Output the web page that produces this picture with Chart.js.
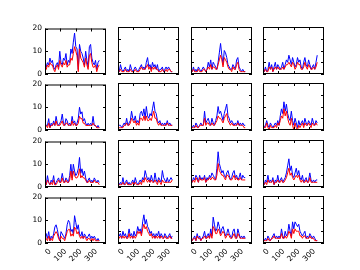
<!DOCTYPE html>
<html>
<head>
<meta charset="utf-8">
<script src="https://cdn.jsdelivr.net/npm/chart.js@4/dist/chart.umd.min.js"></script>
<style>
  html, body { margin: 0; padding: 0; background: #fff; }
  #fig { position: relative; width: 360px; height: 270px; background: #fff; overflow: hidden; }
  #fig canvas { position: absolute; }
</style>
</head>
<body>
<div id="fig"></div>
<script>
// ---- data ----
const days = [0,8,16,24,32,40,48,56,64,72,80,88,96,104,112,120,128,136,144,152,160,168,176,184,192,200,208,216,224,232,240,248,256,264,272,280,288,296,304,312,320,328,336,344,352];
const xTickValues = [0, 100, 200, 300];
const yTickValues = [0, 5, 10, 15, 20];
const xMax = 396;
const yMax = 20;

const p1Blue = [6,3,5,4,7,5,6,3,2,4,5,3,10,5,4,7,6,9,4,6,5,11,9,14,18,12,11,2,13,10,9,7,4,10,6,3,12,13,7,5,4,6,2,5,6];
const p1Red  = [4,2,4,3,5,4,4,2,1,3,4,2,6,4,3,5,4,6,3,4,4,7,6,9,12,10,8,1,11,7,6,5,3,7,4,2,8,9,5,3,3,4,1,3,4];
const p2Blue = [2,1,4,2,1,2,3,1,2,1,4,2,1,2,3,2,1,2,3,4,2,3,2,5,7,3,4,2,5,3,4,2,4,1,2,2,3,1,2,3,2,3,2,1,1];
const p2Red  = [1,1,2,1,1,1,2,1,1,1,2,1,1,1,2,1,1,1,2,3,2,2,2,3,4,2,3,1,3,2,3,2,2,1,1,1,2,1,1,2,1,2,2,1,1];
const p3Blue = [2,1,3,1,2,1,3,2,1,2,3,2,1,2,5,3,6,2,5,4,3,2,5,9,13,8,4,10,9,7,4,3,2,2,4,3,2,6,7,3,2,1,2,1,1];
const p3Red  = [2,1,2,1,1,1,2,1,1,1,2,2,1,2,3,2,4,2,3,3,2,2,4,6,8,6,3,7,6,5,3,2,2,1,3,2,2,4,5,2,1,1,1,1,1];
const p4Blue = [2,1,3,1,2,5,2,4,1,3,5,2,4,3,2,3,5,2,4,6,5,8,6,4,7,5,3,4,7,5,6,3,2,5,7,4,3,6,4,2,3,4,2,5,8];
const p4Red  = [1,1,2,1,1,3,2,3,1,2,3,2,3,2,2,2,3,2,3,4,4,5,4,3,5,4,2,3,5,4,4,2,2,3,5,3,2,4,3,2,2,3,2,3,5];
const p5Blue = [3,2,2,5,1,3,2,4,2,6,3,2,3,4,7,3,2,5,4,2,3,2,6,3,4,2,3,5,10,7,8,4,5,3,2,3,2,3,2,6,2,2,1,2,1];
const p5Red  = [2,2,1,3,1,2,2,3,2,4,2,2,2,3,4,2,2,3,3,2,2,2,4,2,3,2,2,3,6,5,5,3,3,2,2,2,2,2,2,3,2,2,1,1,1];
const p6Blue = [2,2,2,1,2,3,2,5,2,3,4,8,5,4,6,3,4,3,7,8,6,9,5,10,6,5,7,6,9,12,8,7,4,3,4,2,3,2,3,2,4,2,3,2,2];
const p6Red  = [1,1,1,1,1,2,2,3,2,2,3,5,4,3,4,2,3,2,5,5,4,6,4,6,4,4,5,4,6,8,5,5,3,2,3,2,2,2,2,2,3,2,2,2,2];
const p7Blue = [2,1,2,1,3,2,1,2,3,2,2,8,3,4,5,3,2,5,3,2,4,6,10,7,8,6,4,7,9,11,6,5,3,4,3,2,3,2,4,2,3,2,3,2,2];
const p7Red  = [1,1,1,1,2,1,1,2,2,2,2,5,2,3,3,2,2,3,2,2,3,4,6,5,5,4,3,5,6,7,4,3,2,3,2,2,2,2,3,2,2,2,2,1,1];
const p8Blue = [3,1,2,4,2,1,3,2,1,2,3,2,4,2,6,9,7,12,8,11,7,5,4,8,4,2,5,3,1,4,2,3,4,2,5,3,2,4,3,2,5,3,2,4,3];
const p8Red  = [2,1,1,3,1,0,2,1,1,1,2,1,3,2,4,6,5,9,6,8,5,3,2,5,2,0,3,1,0,2,1,2,3,1,3,2,2,3,2,1,3,2,2,3,2];
const p9Blue = [2,1,5,2,1,3,2,5,1,2,3,4,2,3,6,3,2,4,3,2,5,10,4,10,7,5,6,8,13,6,8,5,7,4,2,3,4,2,3,2,4,3,2,3,2];
const p9Red  = [1,1,3,2,1,2,1,3,1,1,2,3,2,2,4,2,2,3,2,2,3,7,3,7,5,4,4,5,8,4,5,4,4,3,2,2,3,2,2,2,3,2,2,2,1];
const p10Blue = [2,1,2,1,4,1,2,3,1,2,1,2,3,1,4,2,1,2,3,2,4,3,7,5,3,4,2,5,3,2,6,3,2,4,3,2,7,4,3,2,4,2,3,4,3];
const p10Red  = [1,1,1,1,2,1,1,2,1,1,1,1,2,1,2,1,1,1,2,1,3,2,4,3,2,3,2,3,2,2,3,2,1,3,2,1,3,2,2,2,2,2,2,2,3];
const p11Blue = [3,2,4,3,5,4,2,5,3,4,3,5,2,4,3,5,4,6,5,4,3,8,15,10,8,6,7,5,4,6,7,5,3,4,6,7,4,5,3,4,6,3,5,4,4];
const p11Red  = [2,2,3,2,4,3,2,4,3,3,3,4,2,3,3,4,3,4,4,3,3,5,10,7,6,5,5,4,3,5,5,4,3,3,4,5,3,4,3,3,4,3,3,3,3];
const p12Blue = [2,1,3,2,5,2,3,2,4,1,3,2,5,2,3,4,2,3,4,6,9,12,7,9,5,4,6,8,5,7,4,3,5,2,3,4,2,3,6,3,2,3,2,3,3];
const p12Red  = [1,1,2,1,3,2,2,2,3,1,2,2,3,2,2,3,2,2,3,4,6,8,5,6,4,3,4,5,4,5,3,2,3,2,2,3,2,2,4,2,2,2,2,2,2];
const p13Blue = [5,4,2,5,1,3,2,4,7,8,6,3,1,5,4,3,2,4,8,10,9,5,6,4,12,9,6,8,4,3,5,2,4,3,2,3,4,2,3,2,3,2,1,2,1];
const p13Red  = [3,2,1,3,1,2,1,3,4,5,4,2,1,3,2,2,1,3,5,6,6,3,4,3,7,6,4,5,3,2,3,2,3,2,1,2,2,1,2,1,2,1,1,1,1];
const p14Blue = [5,3,4,2,5,3,4,2,3,6,3,4,2,5,3,4,7,5,6,4,9,12,8,10,7,6,4,5,3,4,2,4,3,5,2,4,3,2,4,3,2,3,4,2,3];
const p14Red  = [3,2,3,2,3,2,3,2,2,4,2,3,2,3,2,3,5,4,5,3,6,8,6,7,5,4,3,4,2,3,2,3,2,3,2,3,2,2,3,2,2,2,3,2,2];
const p15Blue = [3,1,2,3,1,4,2,3,1,2,3,5,2,3,4,2,6,3,11,8,5,6,9,7,4,6,7,5,3,4,6,4,3,2,5,6,3,2,6,4,2,3,2,3,2];
const p15Red  = [2,1,2,2,1,3,2,2,1,2,2,3,2,2,3,2,4,2,7,6,4,4,6,5,3,4,5,4,2,3,4,3,2,2,3,4,2,2,4,3,2,2,2,2,2];
const p16Blue = [2,1,2,1,3,2,1,2,3,4,2,3,2,3,2,6,3,2,5,3,4,8,5,3,9,6,9,8,7,8,5,4,3,4,5,2,3,2,4,3,2,3,2,1,1];
const p16Red  = [1,1,1,1,2,1,1,2,2,3,2,2,2,2,2,4,2,2,3,2,3,5,4,2,6,4,6,5,5,5,3,3,2,3,3,2,2,2,3,2,2,2,1,1,1];

const panels = [
  [p1Blue, p1Red], [p2Blue, p2Red], [p3Blue, p3Red], [p4Blue, p4Red],
  [p5Blue, p5Red], [p6Blue, p6Red], [p7Blue, p7Red], [p8Blue, p8Red],
  [p9Blue, p9Red], [p10Blue, p10Red], [p11Blue, p11Red], [p12Blue, p12Red],
  [p13Blue, p13Red], [p14Blue, p14Red], [p15Blue, p15Red], [p16Blue, p16Red]
];

// ---- layout ----
const FIG_W = 360, FIG_H = 270;
const gridLeft = 0.125 * FIG_W, gridRight = 0.9 * FIG_W;
const gridTop = 0.1 * FIG_H, gridBottom = 0.9 * FIG_H;
const pw = (gridRight - gridLeft) / 4.6, ph = (gridBottom - gridTop) / 4.6;
const PAD_L = 30, PAD_T = 6, PAD_R = 4, PAD_B = 30;
const FONT = { family: "'DejaVu Sans', sans-serif", size: 7.5 };

const framePlugin = {
  id: 'frame',
  afterDatasetsDraw(chart) {
    const { ctx, chartArea: a, scales } = chart;
    ctx.save();
    ctx.strokeStyle = '#000';
    ctx.lineWidth = 1;
    ctx.strokeRect(a.left + 0.5, a.top + 0.5, a.right - a.left - 1, a.bottom - a.top - 1);
    ctx.beginPath();
    const tl = 3;
    scales.x.ticks.forEach(t => {
      const px = Math.round(scales.x.getPixelForValue(t.value)) + 0.5;
      ctx.moveTo(px, a.bottom); ctx.lineTo(px, a.bottom - tl);
      ctx.moveTo(px, a.top); ctx.lineTo(px, a.top + tl);
    });
    scales.y.ticks.forEach(t => {
      const py = Math.round(scales.y.getPixelForValue(t.value)) + 0.5;
      ctx.moveTo(a.left, py); ctx.lineTo(a.left + tl, py);
      ctx.moveTo(a.right, py); ctx.lineTo(a.right - tl, py);
    });
    ctx.stroke();
    ctx.restore();
  }
};

const fig = document.getElementById('fig');
panels.forEach(([blue, red], k) => {
  const col = k % 4, row = Math.floor(k / 4);
  const left = Math.round(gridLeft + col * pw * 1.2);
  const top = Math.round(gridTop + row * ph * 1.2);
  const cw = Math.round(pw) + PAD_L + PAD_R;
  const chh = Math.round(ph) + PAD_T + PAD_B;
  const cv = document.createElement('canvas');
  cv.width = cw; cv.height = chh;
  cv.style.left = (left - PAD_L) + 'px';
  cv.style.top = (top - PAD_T) + 'px';
  cv.style.width = cw + 'px'; cv.style.height = chh + 'px';
  fig.appendChild(cv);
  new Chart(cv, {
    type: 'line',
    data: {
      datasets: [
        { data: days.map((d, i) => ({ x: d, y: red[i] })), borderColor: '#ff0000', borderWidth: 1, pointRadius: 0, tension: 0, order: 0 },
        { data: days.map((d, i) => ({ x: d, y: blue[i] })), borderColor: '#0000ff', borderWidth: 1, pointRadius: 0, tension: 0, order: 1 }
      ]
    },
    options: {
      responsive: false,
      devicePixelRatio: 1,
      animation: false,
      events: [],
      layout: { padding: { left: 0, top: PAD_T, right: PAD_R, bottom: 0 } },
      plugins: { legend: { display: false }, tooltip: { enabled: false } },
      scales: {
        x: {
          type: 'linear', min: 0, max: xMax,
          grid: { display: false, drawTicks: false },
          border: { display: false },
          afterBuildTicks: s => { s.ticks = xTickValues.map(v => ({ value: v })); },
          afterFit: s => { s.height = PAD_B; },
          ticks: {
            display: row === 3, font: FONT, color: '#000',
            minRotation: 45, maxRotation: 45, padding: 4, labelOffset: 5, autoSkip: false
          }
        },
        y: {
          min: 0, max: yMax,
          grid: { display: false, drawTicks: false },
          border: { display: false },
          afterBuildTicks: s => { s.ticks = yTickValues.map(v => ({ value: v })); },
          afterFit: s => { s.width = PAD_L; },
          ticks: { display: col === 0, font: FONT, color: '#000', padding: 3 }
        }
      }
    },
    plugins: [framePlugin]
  });
});
</script>
</body>
</html>
